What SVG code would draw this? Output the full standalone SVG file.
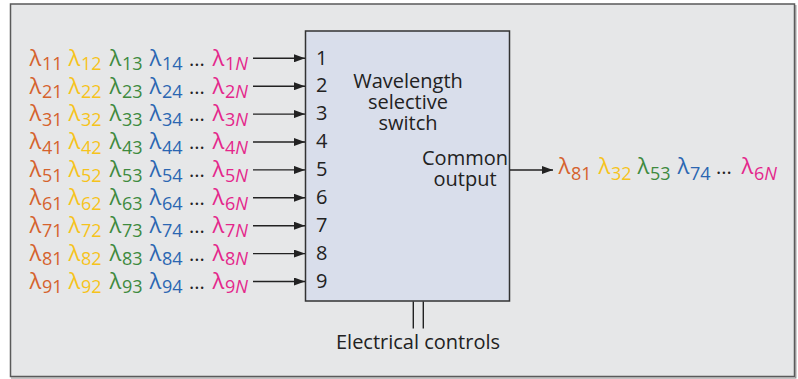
<svg xmlns="http://www.w3.org/2000/svg" width="798" height="379" viewBox="0 0 798 379">
<style>
text{font-family:"Open Sans","Noto Sans","Liberation Sans",sans-serif;fill:#222}
.L{font-size:22px}
.S{font-size:18px}
.D{font-size:20px}
.T{font-size:20px}
.c1{fill:#d5622d}
.c2{fill:#f6c31c}
.c3{fill:#3e8a3e}
.c4{fill:#2b66b2}
.c5{fill:#e4268b}
.it{font-style:italic}
.ln{stroke:#222;stroke-width:1.4;fill:none}
</style>
<defs>
<marker id="ah" markerUnits="userSpaceOnUse" markerWidth="11" markerHeight="8" refX="11" refY="4" orient="auto">
<path d="M0,0 L11,4 L0,8 z" fill="#222"/>
</marker>
</defs>
<rect x="10.5" y="4" width="784" height="372.5" fill="#e6e7e8" stroke="#5a5a5a" stroke-width="1.5"/>
<path d="M795.8,5 V378 H11" fill="none" stroke="#8a8a8a" stroke-width="1.2"/>

<g id="wss">
<rect x="305.5" y="31" width="204" height="270" fill="#d9deeb" stroke="#333" stroke-width="1.5"/>
<text class="T" text-anchor="middle"><tspan x="408" y="87.7">Wavelength</tspan><tspan x="408" y="108.7">selective</tspan><tspan x="408" y="129.7">switch</tspan></text>
<text class="T" text-anchor="middle"><tspan x="465" y="165">Common</tspan><tspan x="465" y="186">output</tspan></text>
<text class="T" x="316" y="64.5">1</text>
<text class="T" x="316" y="92.4">2</text>
<text class="T" x="316" y="120.3">3</text>
<text class="T" x="316" y="148.2">4</text>
<text class="T" x="316" y="176.1">5</text>
<text class="T" x="316" y="204">6</text>
<text class="T" x="316" y="231.9">7</text>
<text class="T" x="316" y="259.8">8</text>
<text class="T" x="316" y="287.7">9</text>
</g>

<g id="in1" transform="translate(0,0)">
<text class="L c1" x="29.5" y="65.7">λ</text><text class="S c1" x="42" y="70">11</text>
<text class="L c2" x="68.5" y="65.7">λ</text><text class="S c2" x="81" y="70">12</text>
<text class="L c3" x="109.5" y="65.7">λ</text><text class="S c3" x="122" y="70">13</text>
<text class="L c4" x="149.5" y="65.7">λ</text><text class="S c4" x="162" y="70">14</text>
<text class="D" x="189" y="65.7">...</text>
<text class="L c5" x="212.5" y="65.7">λ</text><text class="S c5" x="225" y="70">1<tspan class="it">N</tspan></text>
</g>
<g id="in2" transform="translate(0,27.9)">
<text class="L c1" x="29.5" y="65.7">λ</text><text class="S c1" x="42" y="70">21</text>
<text class="L c2" x="68.5" y="65.7">λ</text><text class="S c2" x="81" y="70">22</text>
<text class="L c3" x="109.5" y="65.7">λ</text><text class="S c3" x="122" y="70">23</text>
<text class="L c4" x="149.5" y="65.7">λ</text><text class="S c4" x="162" y="70">24</text>
<text class="D" x="189" y="65.7">...</text>
<text class="L c5" x="212.5" y="65.7">λ</text><text class="S c5" x="225" y="70">2<tspan class="it">N</tspan></text>
</g>
<g id="in3" transform="translate(0,55.8)">
<text class="L c1" x="29.5" y="65.7">λ</text><text class="S c1" x="42" y="70">31</text>
<text class="L c2" x="68.5" y="65.7">λ</text><text class="S c2" x="81" y="70">32</text>
<text class="L c3" x="109.5" y="65.7">λ</text><text class="S c3" x="122" y="70">33</text>
<text class="L c4" x="149.5" y="65.7">λ</text><text class="S c4" x="162" y="70">34</text>
<text class="D" x="189" y="65.7">...</text>
<text class="L c5" x="212.5" y="65.7">λ</text><text class="S c5" x="225" y="70">3<tspan class="it">N</tspan></text>
</g>
<g id="in4" transform="translate(0,83.7)">
<text class="L c1" x="29.5" y="65.7">λ</text><text class="S c1" x="42" y="70">41</text>
<text class="L c2" x="68.5" y="65.7">λ</text><text class="S c2" x="81" y="70">42</text>
<text class="L c3" x="109.5" y="65.7">λ</text><text class="S c3" x="122" y="70">43</text>
<text class="L c4" x="149.5" y="65.7">λ</text><text class="S c4" x="162" y="70">44</text>
<text class="D" x="189" y="65.7">...</text>
<text class="L c5" x="212.5" y="65.7">λ</text><text class="S c5" x="225" y="70">4<tspan class="it">N</tspan></text>
</g>
<g id="in5" transform="translate(0,111.6)">
<text class="L c1" x="29.5" y="65.7">λ</text><text class="S c1" x="42" y="70">51</text>
<text class="L c2" x="68.5" y="65.7">λ</text><text class="S c2" x="81" y="70">52</text>
<text class="L c3" x="109.5" y="65.7">λ</text><text class="S c3" x="122" y="70">53</text>
<text class="L c4" x="149.5" y="65.7">λ</text><text class="S c4" x="162" y="70">54</text>
<text class="D" x="189" y="65.7">...</text>
<text class="L c5" x="212.5" y="65.7">λ</text><text class="S c5" x="225" y="70">5<tspan class="it">N</tspan></text>
</g>
<g id="in6" transform="translate(0,139.5)">
<text class="L c1" x="29.5" y="65.7">λ</text><text class="S c1" x="42" y="70">61</text>
<text class="L c2" x="68.5" y="65.7">λ</text><text class="S c2" x="81" y="70">62</text>
<text class="L c3" x="109.5" y="65.7">λ</text><text class="S c3" x="122" y="70">63</text>
<text class="L c4" x="149.5" y="65.7">λ</text><text class="S c4" x="162" y="70">64</text>
<text class="D" x="189" y="65.7">...</text>
<text class="L c5" x="212.5" y="65.7">λ</text><text class="S c5" x="225" y="70">6<tspan class="it">N</tspan></text>
</g>
<g id="in7" transform="translate(0,167.4)">
<text class="L c1" x="29.5" y="65.7">λ</text><text class="S c1" x="42" y="70">71</text>
<text class="L c2" x="68.5" y="65.7">λ</text><text class="S c2" x="81" y="70">72</text>
<text class="L c3" x="109.5" y="65.7">λ</text><text class="S c3" x="122" y="70">73</text>
<text class="L c4" x="149.5" y="65.7">λ</text><text class="S c4" x="162" y="70">74</text>
<text class="D" x="189" y="65.7">...</text>
<text class="L c5" x="212.5" y="65.7">λ</text><text class="S c5" x="225" y="70">7<tspan class="it">N</tspan></text>
</g>
<g id="in8" transform="translate(0,195.3)">
<text class="L c1" x="29.5" y="65.7">λ</text><text class="S c1" x="42" y="70">81</text>
<text class="L c2" x="68.5" y="65.7">λ</text><text class="S c2" x="81" y="70">82</text>
<text class="L c3" x="109.5" y="65.7">λ</text><text class="S c3" x="122" y="70">83</text>
<text class="L c4" x="149.5" y="65.7">λ</text><text class="S c4" x="162" y="70">84</text>
<text class="D" x="189" y="65.7">...</text>
<text class="L c5" x="212.5" y="65.7">λ</text><text class="S c5" x="225" y="70">8<tspan class="it">N</tspan></text>
</g>
<g id="in9" transform="translate(0,223.2)">
<text class="L c1" x="29.5" y="65.7">λ</text><text class="S c1" x="42" y="70">91</text>
<text class="L c2" x="68.5" y="65.7">λ</text><text class="S c2" x="81" y="70">92</text>
<text class="L c3" x="109.5" y="65.7">λ</text><text class="S c3" x="122" y="70">93</text>
<text class="L c4" x="149.5" y="65.7">λ</text><text class="S c4" x="162" y="70">94</text>
<text class="D" x="189" y="65.7">...</text>
<text class="L c5" x="212.5" y="65.7">λ</text><text class="S c5" x="225" y="70">9<tspan class="it">N</tspan></text>
</g>

<g id="out">
<text class="L c1" x="558.5" y="174.3">λ</text><text class="S c1" x="571" y="180">81</text>
<text class="L c2" x="598.5" y="174.3">λ</text><text class="S c2" x="611" y="180">32</text>
<text class="L c3" x="637.5" y="174.3">λ</text><text class="S c3" x="650" y="180">53</text>
<text class="L c4" x="677.5" y="174.3">λ</text><text class="S c4" x="690" y="180">74</text>
<text class="D" x="716" y="174.3">...</text>
<text class="L c5" x="741.5" y="174.3">λ</text><text class="S c5" x="754" y="180">6<tspan class="it">N</tspan></text>
</g>

<g id="controls">
<text class="T" x="418" y="349.3" text-anchor="middle">Electrical controls</text>
</g>

<g id="connectors">
<line class="ln" x1="253" y1="58.3" x2="305" y2="58.3" marker-end="url(#ah)"/>
<line class="ln" x1="253" y1="86.2" x2="305" y2="86.2" marker-end="url(#ah)"/>
<line class="ln" x1="253" y1="114.1" x2="305" y2="114.1" marker-end="url(#ah)"/>
<line class="ln" x1="253" y1="142" x2="305" y2="142" marker-end="url(#ah)"/>
<line class="ln" x1="253" y1="169.9" x2="305" y2="169.9" marker-end="url(#ah)"/>
<line class="ln" x1="253" y1="197.8" x2="305" y2="197.8" marker-end="url(#ah)"/>
<line class="ln" x1="253" y1="225.7" x2="305" y2="225.7" marker-end="url(#ah)"/>
<line class="ln" x1="253" y1="253.6" x2="305" y2="253.6" marker-end="url(#ah)"/>
<line class="ln" x1="253" y1="281.5" x2="305" y2="281.5" marker-end="url(#ah)"/>
<line class="ln" x1="510" y1="170" x2="553" y2="170" marker-end="url(#ah)"/>
<line class="ln" x1="413.3" y1="301.5" x2="413.3" y2="328.5"/>
<line class="ln" x1="423.3" y1="301.5" x2="423.3" y2="328.5"/>
</g>
</svg>
